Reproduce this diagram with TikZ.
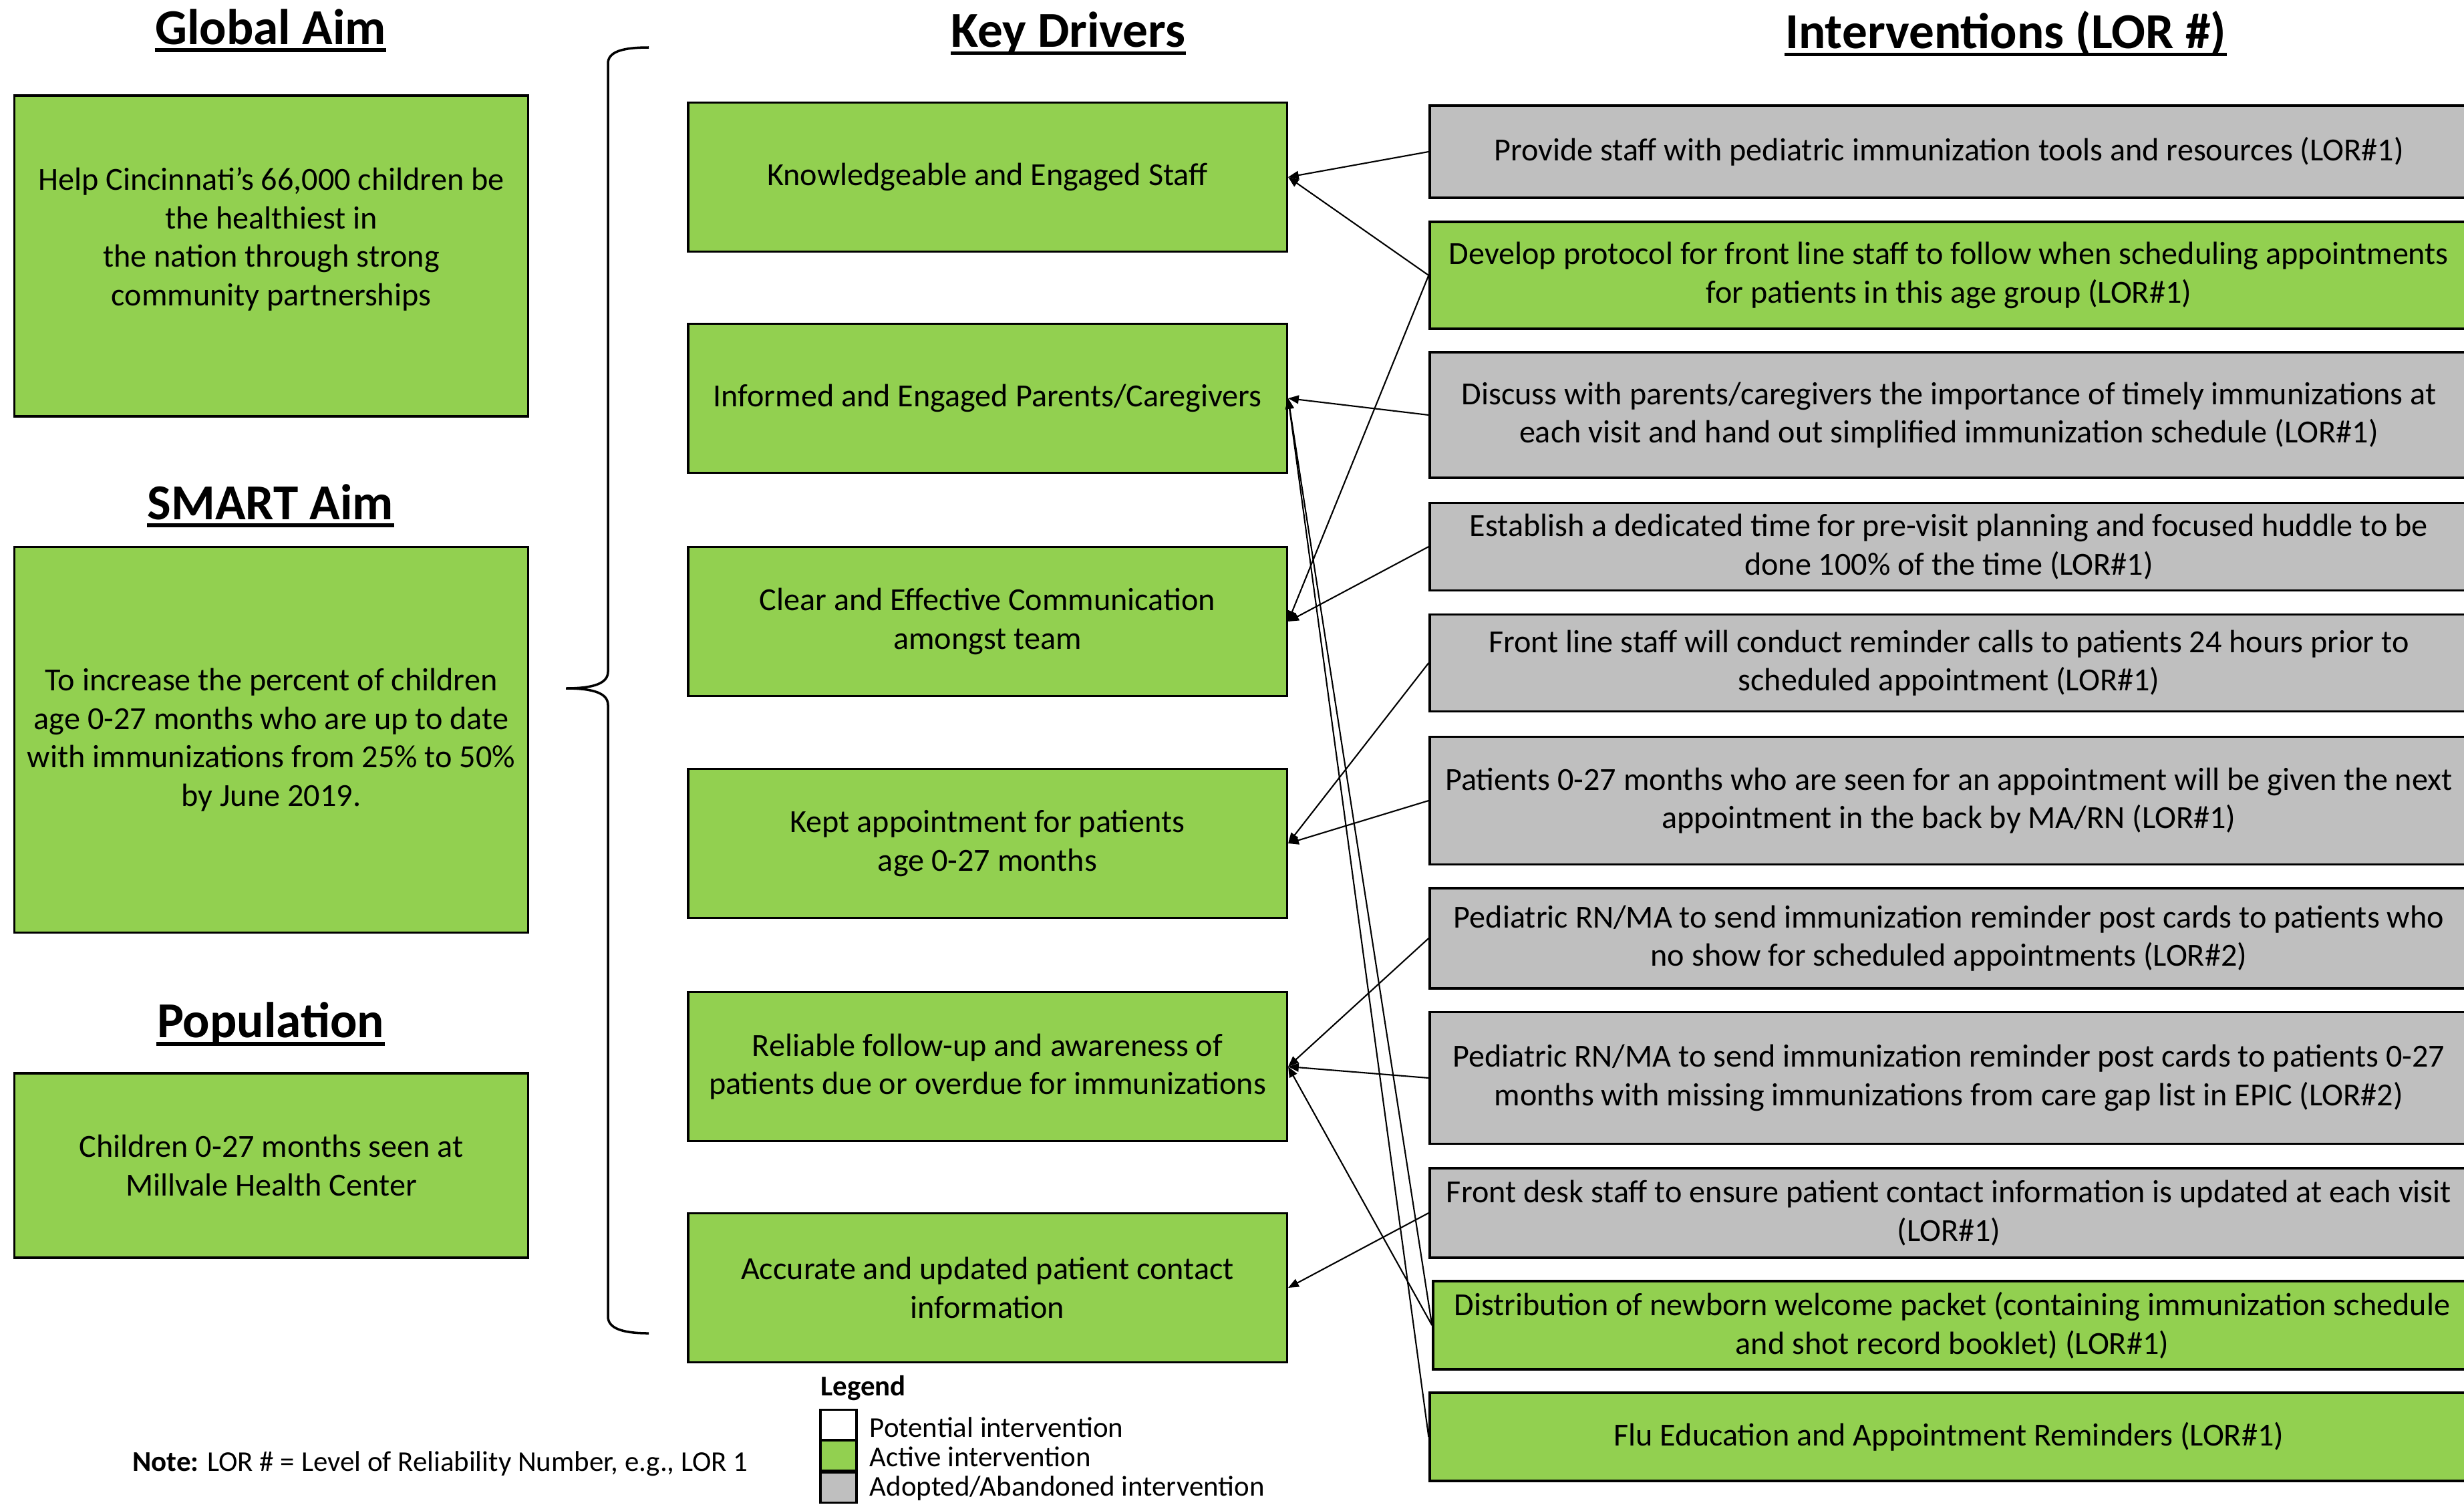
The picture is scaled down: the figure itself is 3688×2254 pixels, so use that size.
\documentclass[tikz,border=0pt]{standalone}
\usepackage{fontspec}
\setmainfont{Carlito}
\usetikzlibrary{arrows.meta}
\definecolor{actgreen}{HTML}{92D050}
\definecolor{adoptgray}{HTML}{BFBFBF}
\begin{document}
\begin{tikzpicture}[x=0.01cm,y=-0.01cm,
        hd/.style={font=\fontsize{21.4}{25}\selectfont\bfseries,inner sep=0pt},
        box/.style={draw,line width=1pt,align=center,inner sep=0pt,font=\fontsize{13.7}{16.4}\selectfont},
        aim/.style={box,fill=actgreen,minimum width=7.69cm},
        drv/.style={box,fill=actgreen,minimum width=8.96cm,minimum height=2.23cm},
        intv/.style={box,fill=adoptgray,minimum width=15.53cm},
        small/.style={font=\fontsize{12.2}{14}\selectfont},
        conn/.style={line width=0.6pt,-{Triangle[length=4.5pt,width=3.6pt]}}]
        \clip (0,0) rectangle (3688,2254);
        \fill[white] (0,0) rectangle (3688,2254);

        % headings
        \node[hd] (hglobal) at (405,40) {Global Aim};
        \node[hd] (hsmart) at (405,751) {SMART Aim};
        \node[hd] (hpop) at (405,1532) {Population};
        \node[hd] (hdrv) at (1599,50) {Key Drivers};
        \node[hd] (hint) at (3002,50) {Interventions (LOR \#)};
        \foreach \h in {hglobal,hsmart,hpop,hdrv,hint}
            \draw[line width=1.6pt] ([yshift=-2.6pt]\h.base west) -- ([yshift=-2.6pt]\h.base east);

        % aims
        \node[aim,minimum height=4.80cm] (global) at (406,383)
            {Help Cincinnati’s 66,000 children be\\ the healthiest in\\ the nation through strong\\ community partnerships\\ ~};
        \node[aim,minimum height=5.77cm] (smart) at (406,1107)
            {To increase the percent of children\\ age 0-27 months who are up to date\\ with immunizations from 25\% to 50\%\\ by June 2019.};
        \node[aim,minimum height=2.76cm] (pop) at (406,1744)
            {Children 0-27 months seen at\\ Millvale Health Center};

        % brace
        \draw[line width=1pt] (971,71) .. controls (930,71) and (910,78) .. (910,95) -- (910,1005)
            .. controls (910,1022) and (890,1030) .. (847,1030)
            .. controls (890,1030) and (910,1038) .. (910,1055) -- (910,1970)
            .. controls (910,1987) and (930,1995) .. (971,1995);

        % key drivers
        \node[drv] (kd1) at (1478,265) {Knowledgeable and Engaged Staff};
        \node[drv] (kd2) at (1478,596) {Informed and Engaged Parents/Caregivers};
        \node[drv] (kd3) at (1478,930) {Clear and Effective Communication\\ amongst team};
        \node[drv] (kd4) at (1478,1262) {Kept appointment for patients\\ age 0-27 months};
        \node[drv] (kd5) at (1478,1596) {Reliable follow-up and awareness of\\ patients due or overdue for immunizations};
        \node[drv] (kd6) at (1478,1927) {Accurate and updated patient contact\\ information};

        % interventions
        \node[intv,minimum height=1.38cm] (i1) at (2917,227)
            {Provide staff with pediatric immunization tools and resources (LOR\#1)};
        \node[intv,fill=actgreen,minimum height=1.60cm] (i2) at (2917,412)
            {Develop protocol for front line staff to follow when scheduling appointments\\ for patients in this age group (LOR\#1)};
        \node[intv,minimum height=1.88cm] (i3) at (2917,621)
            {Discuss with parents/caregivers the importance of timely immunizations at\\ each visit and hand out simplified immunization schedule (LOR\#1)};
        \node[intv,minimum height=1.31cm] (i4) at (2917,818)
            {Establish a dedicated time for pre-visit planning and focused huddle to be\\ done 100\% of the time (LOR\#1)};
        \node[intv,minimum height=1.45cm] (i5) at (2917,992)
            {Front line staff will conduct reminder calls to patients 24 hours prior to\\ scheduled appointment (LOR\#1)};
        \node[intv,minimum height=1.91cm] (i6) at (2917,1198)
            {Patients 0-27 months who are seen for an appointment will be given the next\\ appointment in the back by MA/RN (LOR\#1)};
        \node[intv,minimum height=1.50cm] (i7) at (2917,1404)
            {Pediatric RN/MA to send immunization reminder post cards to patients who\\ no show for scheduled appointments (LOR\#2)};
        \node[intv,minimum height=1.97cm] (i8) at (2917,1613)
            {Pediatric RN/MA to send immunization reminder post cards to patients 0-27\\ months with missing immunizations from care gap list in EPIC (LOR\#2)};
        \node[intv,minimum height=1.34cm] (i9) at (2917,1815)
            {Front desk staff to ensure patient contact information is updated at each visit\\ (LOR\#1)};
        \node[intv,fill=actgreen,minimum height=1.32cm] (i10) at (2922,1983)
            {Distribution of newborn welcome packet (containing immunization schedule\\ and shot record booklet) (LOR\#1)};
        \node[intv,fill=actgreen,minimum height=1.32cm] (i11) at (2917,2150)
            {Flu Education and Appointment Reminders (LOR\#1)};

        % links
        \draw[conn] (i1.west) -- (kd1.east);
        \draw[conn] (i2.west) -- (kd1.east);
        \draw[conn] (i2.west) -- (kd3.east);
        \draw[conn] (i3.west) -- (kd2.east);
        \draw[conn] (i4.west) -- (kd3.east);
        \draw[conn] (i5.west) -- (kd4.east);
        \draw[conn] (i6.west) -- (kd4.east);
        \draw[conn] (i7.west) -- (kd5.east);
        \draw[conn] (i8.west) -- (kd5.east);
        \draw[conn] (i9.west) -- (kd6.east);
        \draw[conn] (i10.west) -- (kd5.east);
        \draw[conn] (i10.west) -- (kd2.east);
        \draw[conn] (i11.west) -- (kd2.east);

        % legend and note
        \node[font=\fontsize{12.2}{14}\selectfont\bfseries,anchor=west,inner sep=0pt] (leg) at (1228,2077) {Legend};
        \node[draw,line width=1pt,fill=white,minimum width=0.54cm,minimum height=0.45cm,inner sep=0pt] (legpot) at (1255,2132) {};
        \node[draw,line width=1pt,fill=actgreen,minimum width=0.54cm,minimum height=0.45cm,inner sep=0pt] (legact) at (1255,2178) {};
        \node[draw,line width=1pt,fill=adoptgray,minimum width=0.54cm,minimum height=0.45cm,inner sep=0pt] (legado) at (1255,2226) {};
        \node[small,anchor=west,inner sep=0pt] (legpott) at (1301,2136) {Potential intervention};
        \node[small,anchor=west,inner sep=0pt] (legactt) at (1301,2180) {Active intervention};
        \node[small,anchor=west,inner sep=0pt] (legadot) at (1301,2227) {Adopted/Abandoned intervention};
        \node[small] (note) at (659,2190) {\textbf{Note:} LOR \# = Level of Reliability Number, e.g., LOR 1};
    \end{tikzpicture}
\end{document}
